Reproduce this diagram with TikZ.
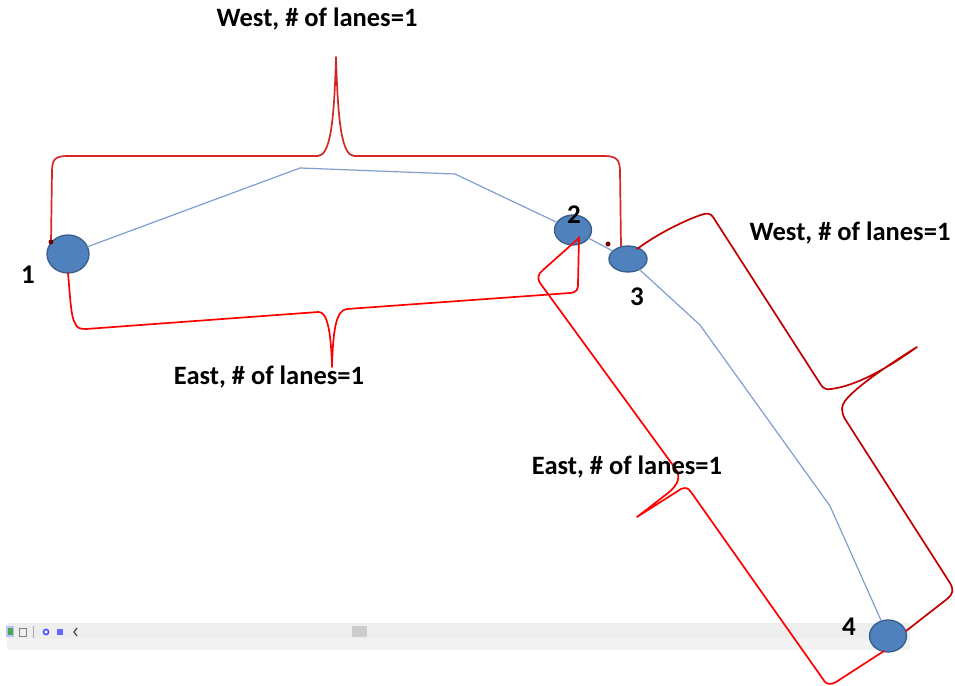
\documentclass[tikz,border=0pt]{standalone}
\usepackage{fontspec}
\setmainfont{Carlito}
\usetikzlibrary{shapes.geometric}
\definecolor{nodefill}{RGB}{79,129,189}
\definecolor{nodeedge}{RGB}{56,93,138}
\definecolor{roadblue}{RGB}{128,158,208}
\definecolor{braceA}{RGB}{212,40,40}
\definecolor{braceC}{RGB}{192,0,0}
\definecolor{braceB}{RGB}{255,0,0}
\definecolor{dotred}{RGB}{120,0,0}
\definecolor{stripA}{RGB}{238,238,238}
\definecolor{stripB}{RGB}{243,243,243}
\begin{document}
\begin{tikzpicture}[x=1pt,y=-1pt,
  lbl/.style={font=\fontsize{26.5}{30}\selectfont\bfseries, text=black, inner sep=0pt},
  num/.style={font=\fontsize{27}{30}\selectfont\bfseries, text=black, inner sep=0pt},
  station/.style={ellipse, draw=nodeedge, fill=nodefill, line width=1.3pt, inner sep=0pt, outer sep=0pt},
  road/.style={draw=roadblue, line width=1.2pt, line join=round},
  bracew/.style={line width=1.7pt, line join=round, line cap=round},
  enddot/.style={circle, fill=dotred, inner sep=0pt, minimum size=5pt}]
\useasboundingbox (0,0) rectangle (955,685);
\fill[white] (0,0) rectangle (955,685);
% bottom status strip
\fill[stripA] (7,623) rectangle (910,639);
\fill[stripB] (7,639) rectangle (910,650);
\fill[black!20] (352,626) rectangle (367,637);
\fill[blue!25] (6,626) rectangle (14,637);
\fill[green!50!black!70] (8,628) rectangle (13,635);
\draw[gray, line width=0.8pt] (19,628) rectangle (26,636);
\draw[gray!70, line width=0.6pt] (33,626) -- (33,638);
\draw[blue!70, line width=1.5pt] (46,632) circle (2.6pt);
\fill[blue!60] (57,629) rectangle (63,635);
\draw[black!70, line width=1.3pt] (77,628) -- (74,632) -- (77,636);
% stations
\node[station, minimum width=42pt, minimum height=38pt] (n1) at (68,254) {};
\node[station, minimum width=37pt, minimum height=30pt] (n2) at (573,230) {};
\node[station, minimum width=38pt, minimum height=26pt] (n3) at (628,259) {};
\node[station, minimum width=37pt, minimum height=32pt] (n4) at (888,636) {};
% road bends
\coordinate (r1) at (300,168);
\coordinate (r2) at (455,174);
\coordinate (r3) at (700,325);
\coordinate (r4) at (830,506);
\draw[road] (n1) -- (r1) -- (r2) -- (n2);
\draw[road] (n2) -- (n3);
\draw[road] (n3) -- (r3) -- (r4) -- (n4);
% brace end points
\coordinate (a0) at (51,242);
\coordinate (a1) at (621,246);
\coordinate (b0) at (68,273);
\coordinate (b1) at (579,237);
\coordinate (c0) at (637,249);
\coordinate (c1) at (906,631);
\coordinate (d0) at (579,238);
\coordinate (d1) at (884,651);
\coordinate (at) at (336,57);
\coordinate (bt) at (332,367);
\coordinate (ct) at (917,347);
\coordinate (dt) at (637,517);
% top brace (West, 1-3)
\draw[braceA, bracew] (a0) -- (52,172) .. controls (52,159) and (55,156) .. (68,156)
  -- (318,156) .. controls (330,155) and (334,125) .. (at)
  .. controls (338,125) and (342,155) .. (354,156)
  -- (604,156) .. controls (617,156) and (620,160) .. (620,172) -- (a1);
% bottom-left brace (East, 1-2)
\draw[braceB, bracew] (b0) .. controls (70,295) and (71,318) .. (75,323)
  .. controls (77,328) and (79,329) .. (86,329)
  -- (318,312) .. controls (327,311) and (331,330) .. (bt)
  .. controls (333,330) and (336,310) .. (347,309)
  -- (570,293) .. controls (577,292) and (578,290) .. (578,283) -- (b1);
% right brace (West, 3-4)
\draw[braceC, bracew] (c0) .. controls (660,232) and (690,218) .. (704,214)
  .. controls (708,213) and (711,214) .. (713,217)
  -- (821,385) .. controls (823,388) and (826,390) .. (831,389)
  .. controls (855,386) and (885,370) .. (ct)
  .. controls (880,370) and (853,390) .. (845,401)
  .. controls (841,406) and (841,412) .. (845,419)
  -- (950,583) .. controls (954,590) and (953,594) .. (947,599) -- (c1);
% lower brace (East, 2-4)
\draw[braceB, bracew] (d0) -- (543,270) .. controls (538,274) and (537,278) .. (540,283)
  -- (675,468) .. controls (681,476) and (679,484) .. (668,493) -- (dt)
  -- (681,489) .. controls (686,487) and (688,488) .. (691,492)
  -- (825,682) .. controls (828,685) and (832,684) .. (836,682) -- (d1);
% end dots
\node[enddot] (dA) at (a0) {};
\node[enddot] (dB) at (608,244) {};
% station numbers
\node[num] (l1) at (28,275) {1};
\node[num] (l2) at (574,215) {2};
\node[num] (l3) at (637,297) {3};
\node[num] (l4) at (849,627) {4};
% labels
\node[lbl] (tW1) at (317,19) {West, \# of lanes=1};
\node[lbl] (tE1) at (269,377) {East, \# of lanes=1};
\node[lbl] (tW2) at (850,233) {West, \# of lanes=1};
\node[lbl] (tE2) at (627,467) {East, \# of lanes=1};
\end{tikzpicture}
\end{document}
